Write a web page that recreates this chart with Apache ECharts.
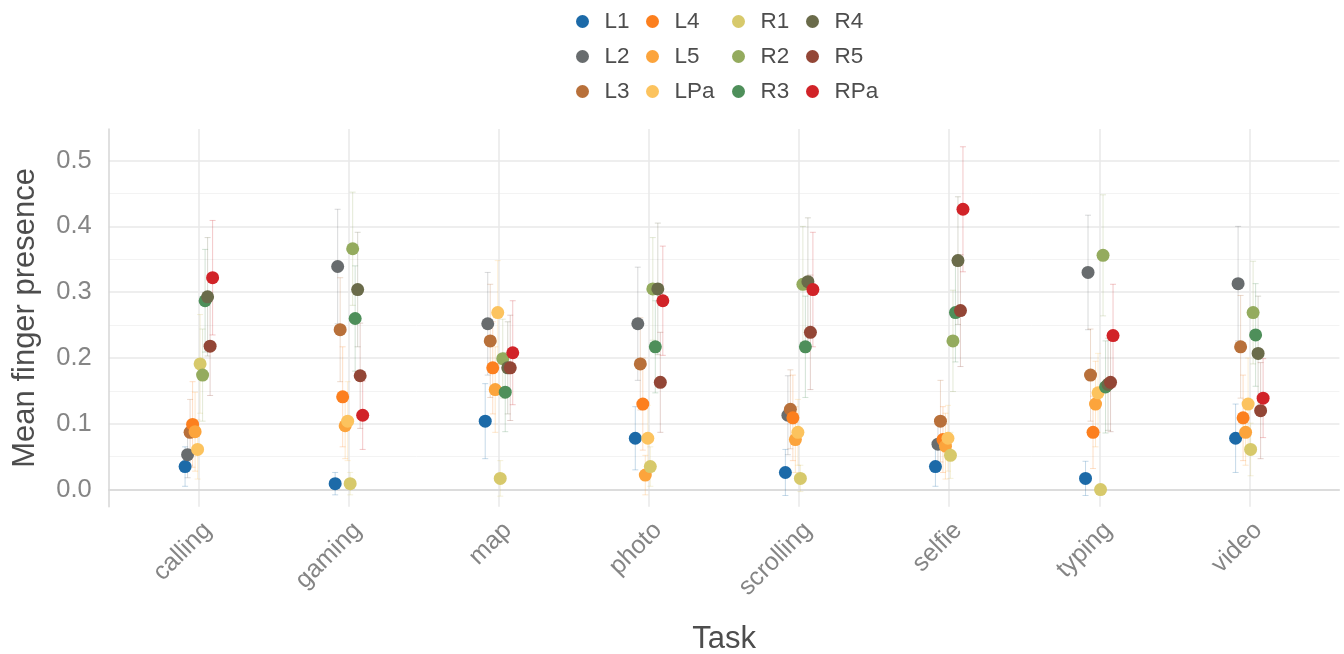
<!DOCTYPE html>
<html>
<head>
<meta charset="utf-8">
<script src="https://cdn.jsdelivr.net/npm/echarts@6/dist/echarts.min.js"></script>
<style>
  html, body { margin: 0; padding: 0; background: #ffffff; }
  #chart { width: 1344px; height: 654px; }
</style>
</head>
<body>
<div id="chart"></div>
<script>
// Tasks on the x axis, fingers as dodged groups within each task
const tasks = ['calling', 'gaming', 'map', 'photo', 'scrolling', 'selfie', 'typing', 'video'];
const fingers = ['L1', 'L2', 'L3', 'L4', 'L5', 'LPa', 'R1', 'R2', 'R3', 'R4', 'R5', 'RPa'];
const fingerColors = ['#1c6aa8', '#686c6e', '#b8703a', '#fc7f1e', '#fca43c', '#fcc35e',
                      '#d7c96b', '#94ab5e', '#4e8f5a', '#6a6b4a', '#934636', '#d12328'];
const yTicks = [0, 0.1, 0.2, 0.3, 0.4, 0.5];
const yMinorTicks = [0.05, 0.15, 0.25, 0.35, 0.45];

// Mean finger presence per task (order follows `tasks`)
const L1_mean  = [0.035, 0.009, 0.104, 0.078, 0.026, 0.035, 0.017, 0.078];
const L2_mean  = [0.053, 0.339, 0.252, 0.252, 0.113, 0.069, 0.330, 0.313];
const L3_mean  = [0.087, 0.243, 0.226, 0.191, 0.122, 0.104, 0.174, 0.217];
const L4_mean  = [0.099, 0.141, 0.185, 0.130, 0.109, 0.076, 0.087, 0.109];
const L5_mean  = [0.088, 0.097, 0.152, 0.022, 0.076, 0.066, 0.130, 0.087];
const LPa_mean = [0.061, 0.104, 0.269, 0.078, 0.087, 0.078, 0.147, 0.130];
const R1_mean  = [0.191, 0.009, 0.017, 0.035, 0.017, 0.052, 0.000, 0.061];
const R2_mean  = [0.174, 0.366, 0.199, 0.305, 0.312, 0.226, 0.356, 0.269];
const R3_mean  = [0.287, 0.260, 0.148, 0.217, 0.217, 0.269, 0.156, 0.235];
const R4_mean  = [0.293, 0.304, 0.185, 0.305, 0.316, 0.348, 0.160, 0.207];
const R5_mean  = [0.218, 0.173, 0.185, 0.163, 0.239, 0.272, 0.163, 0.120];
const RPa_mean = [0.322, 0.113, 0.208, 0.287, 0.304, 0.426, 0.234, 0.139];

// Half-width of the confidence interval per task
const L1_ci  = [0.030, 0.017, 0.057, 0.048, 0.035, 0.030, 0.026, 0.052];
const L2_ci  = [0.035, 0.087, 0.078, 0.086, 0.060, 0.040, 0.087, 0.087];
const L3_ci  = [0.050, 0.079, 0.086, 0.070, 0.060, 0.062, 0.070, 0.078];
const L4_ci  = [0.065, 0.076, 0.070, 0.070, 0.065, 0.050, 0.055, 0.065];
const L5_ci  = [0.060, 0.050, 0.065, 0.030, 0.050, 0.050, 0.065, 0.050];
const LPa_ci = [0.045, 0.060, 0.079, 0.050, 0.050, 0.050, 0.060, 0.070];
const R1_ci  = [0.075, 0.017, 0.027, 0.030, 0.020, 0.035, 0.000, 0.040];
const R2_ci  = [0.070, 0.086, 0.060, 0.078, 0.088, 0.077, 0.092, 0.078];
const R3_ci  = [0.078, 0.080, 0.060, 0.070, 0.077, 0.075, 0.070, 0.078];
const R4_ci  = [0.090, 0.087, 0.070, 0.100, 0.097, 0.097, 0.070, 0.087];
const R5_ci  = [0.075, 0.080, 0.080, 0.076, 0.087, 0.085, 0.075, 0.073];
const RPa_ci = [0.087, 0.052, 0.079, 0.083, 0.087, 0.095, 0.078, 0.060];

const meanByFinger = { L1: L1_mean, L2: L2_mean, L3: L3_mean, L4: L4_mean, L5: L5_mean, LPa: LPa_mean,
                       R1: R1_mean, R2: R2_mean, R3: R3_mean, R4: R4_mean, R5: R5_mean, RPa: RPa_mean };
const ciByFinger = { L1: L1_ci, L2: L2_ci, L3: L3_ci, L4: L4_ci, L5: L5_ci, LPa: LPa_ci,
                     R1: R1_ci, R2: R2_ci, R3: R3_ci, R4: R4_ci, R5: R5_ci, RPa: RPa_ci };

const FONT = "'Liberation Sans', Arial, Helvetica, sans-serif";
const DODGE = 0.2; // total dodge width in task units
const taskPositions = tasks.map((_, i) => i + 1);

function dodgedX(taskIdx, fingerIdx) {
  return taskIdx + 1 + (fingerIdx - (fingers.length - 1) / 2) * DODGE / fingers.length;
}

const pointSeries = fingers.map((f, fi) => ({
  name: f,
  type: 'scatter',
  xAxisIndex: 0,
  yAxisIndex: 0,
  symbol: 'circle',
  symbolSize: 13,
  z: 5,
  itemStyle: { color: fingerColors[fi], opacity: 1 },
  emphasis: { disabled: true },
  data: meanByFinger[f].map((m, ti) => [dodgedX(ti, fi), m])
}));

const errorSeries = fingers.map((f, fi) => ({
  name: f,
  type: 'custom',
  xAxisIndex: 0,
  yAxisIndex: 0,
  z: 2,
  silent: true,
  encode: { x: 0, y: [1, 2] },
  data: meanByFinger[f].map((m, ti) => [dodgedX(ti, fi), m - ciByFinger[f][ti], m + ciByFinger[f][ti]]),
  renderItem: (params, api) => {
    const x = api.value(0);
    const top = api.coord([x, api.value(2)]);
    const bot = api.coord([x, api.value(1)]);
    const cap = 3;
    const style = { stroke: fingerColors[fi], lineWidth: 1, opacity: 0.25 };
    return {
      type: 'group',
      children: [
        { type: 'line', shape: { x1: top[0], y1: top[1], x2: bot[0], y2: bot[1] }, style },
        { type: 'line', shape: { x1: top[0] - cap, y1: top[1], x2: top[0] + cap, y2: top[1] }, style },
        { type: 'line', shape: { x1: bot[0] - cap, y1: bot[1], x2: bot[0] + cap, y2: bot[1] }, style }
      ]
    };
  }
}));

// Four legend columns of three fingers each
const legendCols = [fingers.slice(0, 3), fingers.slice(3, 6), fingers.slice(6, 9), fingers.slice(9, 12)];
const legendLefts = [571, 641, 727, 801];
const legends = legendCols.map((names, ci) => ({
  orient: 'vertical',
  left: legendLefts[ci],
  top: 5,
  itemWidth: 34,
  itemHeight: 13,
  itemGap: 12,
  icon: 'circle',
  selectedMode: false,
  textStyle: { fontFamily: FONT, fontSize: 22.5, color: '#4d4d4d', lineHeight: 22 },
  data: names
}));

const chart = echarts.init(document.getElementById('chart'), null, { renderer: 'canvas' });
chart.setOption({
  animation: false,
  backgroundColor: '#ffffff',
  legend: legends,
  grid: {
    left: 108.8, right: 4.6, top: 129, bottom: 147.3,
    containLabel: false, outerBoundsMode: 'none'
  },
  xAxis: {
    type: 'value',
    min: 0.4,
    max: 8.6,
    name: 'Task',
    nameLocation: 'middle',
    nameGap: 117,
    nameTextStyle: { fontFamily: FONT, fontSize: 31, color: '#4d4d4d' },
    axisLine: { show: true, lineStyle: { color: '#d6d6d6', width: 1.5 } },
    axisTick: { show: false, customValues: taskPositions },
    axisLabel: {
      customValues: taskPositions,
      rotate: 45,
      margin: 11,
      verticalAlign: 'top',
      fontFamily: FONT, fontSize: 25, color: '#858585',
      formatter: v => tasks[Math.round(v) - 1]
    },
    splitLine: { show: true, lineStyle: { color: '#e8e8e8', width: 1.5 } }
  },
  yAxis: [{
    type: 'value',
    min: -0.026,
    max: 0.548,
    name: 'Mean finger presence',
    nameLocation: 'middle',
    nameGap: 68,
    nameTextStyle: { fontFamily: FONT, fontSize: 31, color: '#4d4d4d' },
    axisLine: { show: true, lineStyle: { color: '#d6d6d6', width: 1.5 } },
    axisTick: { show: false, customValues: yTicks },
    axisLabel: {
      customValues: yTicks,
      margin: 17,
      fontFamily: FONT, fontSize: 25.5, color: '#858585',
      formatter: v => v.toFixed(1)
    },
    splitLine: { show: true, lineStyle: { color: '#e8e8e8', width: 1.5 } }
  }, {
    // minor horizontal grid lines
    type: 'value',
    position: 'left',
    min: -0.026,
    max: 0.548,
    axisLine: { show: false },
    axisTick: { show: false, customValues: yMinorTicks },
    axisLabel: { show: false, customValues: yMinorTicks },
    splitLine: { show: true, lineStyle: { color: '#f3f3f3', width: 1 } }
  }],
  series: pointSeries.concat(errorSeries)
});
</script>
</body>
</html>
